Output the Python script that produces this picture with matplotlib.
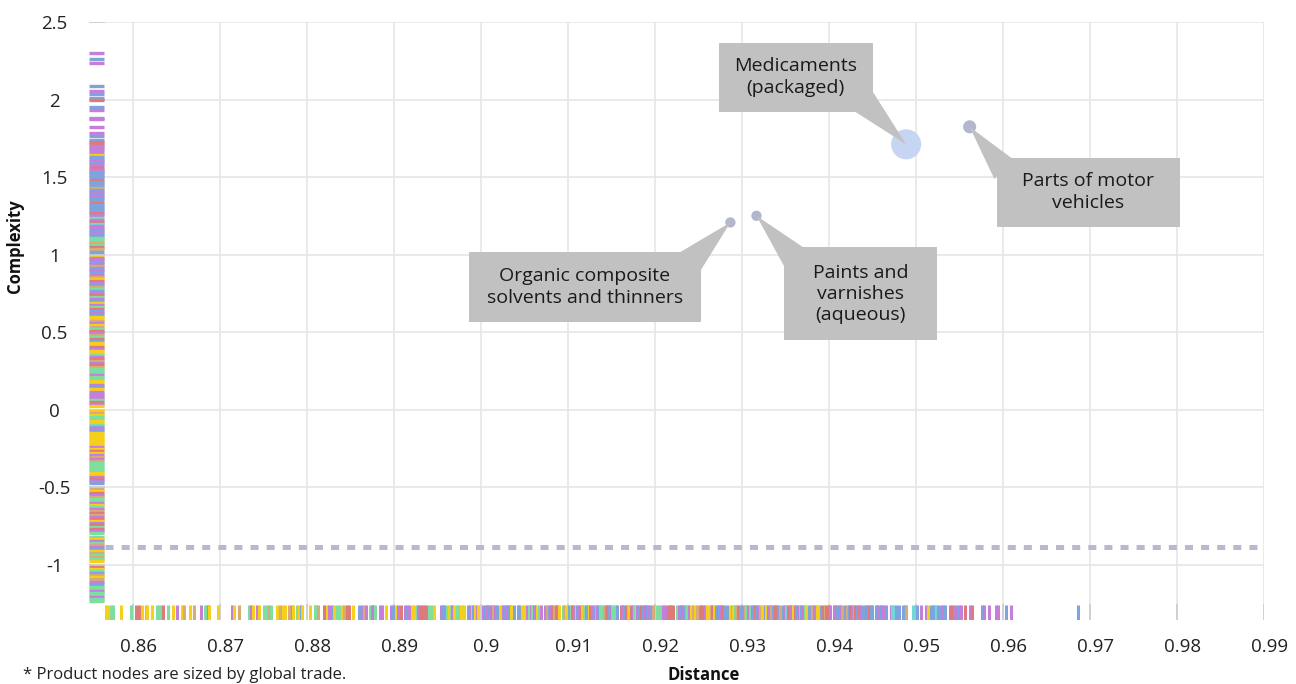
import numpy as np
import matplotlib
matplotlib.use('Agg')
import matplotlib.pyplot as plt
import matplotlib.patches as patches
import matplotlib.transforms as mtransforms

plt.rcParams['font.family'] = ['Open Sans', 'DejaVu Sans']
plt.rcParams['lines.scale_dashes'] = False

# labelled products
names = ['Medicaments\n(packaged)', 'Parts of motor\nvehicles',
         'Organic composite\nsolvents and thinners', 'Paints and\nvarnishes\n(aqueous)']
dist = [0.9489, 0.9562, 0.9287, 0.9317]
comp = [1.711, 1.824, 1.207, 1.250]
trade = [380, 72, 45, 45]
node_cols = ['#c6d5f1', '#b3b7cd', '#b3b7cd', '#b3b7cd']

avg_comp = -0.884

x_ticks = [0.86, 0.87, 0.88, 0.89, 0.90, 0.91, 0.92, 0.93, 0.94, 0.95, 0.96, 0.97, 0.98, 0.99]
x_labels = ['0.86', '0.87', '0.88', '0.89', '0.9', '0.91', '0.92', '0.93', '0.94', '0.95',
            '0.96', '0.97', '0.98', '0.99']
y_ticks = [2.5, 2, 1.5, 1, 0.5, 0, -0.5, -1]
y_labels = ['2.5', '2', '1.5', '1', '0.5', '0', '-0.5', '-1']

# sector colours of the rug marks
sector_cols = {'P': '#c57ed9', 'B': '#7fa4dd', 'R': '#dd7b7b', 'Y': '#f6ce1c',
               'G': '#7edda0', 'T': '#d6ab79', 'C': '#72d7d7'}

# complexity of every product (left rug)
rug_comp = [
    (2.302, 'P'), (2.261, 'B'), (2.237, 'P'),
    (2.089, 'B'), (2.057, 'P'), (2.038, 'B'), (2.010, 'B'), (1.997, 'R'),
    (1.954, 'B'), (1.932, 'P'), (1.883, 'B'), (1.874, 'P'), (1.825, 'P'), (1.786, 'P'), (1.765, 'B'),
    (1.739, 'B'), (1.726, 'R'), (1.713, 'R'), (1.700, 'P'), (1.687, 'P'), (1.674, 'P'), (1.655, 'P'),
    (1.644, 'Y'), (1.629, 'B'), (1.616, 'B'), (1.604, 'P'), (1.591, 'B'), (1.578, 'P'), (1.558, 'R'),
    (1.545, 'P'), (1.535, 'B'), (1.525, 'B'), (1.512, 'B'), (1.503, 'B'), (1.481, 'R'), (1.468, 'B'),
    (1.455, 'B'), (1.442, 'B'), (1.431, 'T'), (1.417, 'B'), (1.404, 'P'), (1.391, 'B'), (1.378, 'P'),
    (1.365, 'B'), (1.352, 'B'), (1.334, 'R'), (1.320, 'B'), (1.307, 'B'), (1.294, 'B'), (1.278, 'B'),
    (1.268, 'R'), (1.252, 'P'), (1.234, 'G'), (1.223, 'P'), (1.210, 'R'), (1.197, 'C'), (1.184, 'P'),
    (1.171, 'P'), (1.159, 'B'), (1.146, 'P'), (1.133, 'B'), (1.120, 'B'), (1.107, 'G'), (1.094, 'G'),
    (1.083, 'G'), (1.075, 'T'), (1.062, 'G'), (1.049, 'R'), (1.036, 'T'), (1.019, 'B'),
    (0.986, 'Y'), (0.975, 'P'), (0.965, 'P'), (0.952, 'B'), (0.939, 'P'), (0.926, 'T'), (0.914, 'B'),
    (0.901, 'P'), (0.888, 'B'), (0.868, 'P'), (0.855, 'T'), (0.842, 'Y'), (0.829, 'R'), (0.816, 'P'),
    (0.803, 'B'), (0.791, 'T'), (0.778, 'G'), (0.765, 'B'), (0.752, 'P'), (0.739, 'R'), (0.726, 'G'),
    (0.713, 'P'), (0.701, 'B'), (0.688, 'Y'), (0.675, 'P'), (0.662, 'G'), (0.649, 'R'), (0.636, 'B'),
    (0.623, 'P'), (0.610, 'B'), (0.597, 'Y'), (0.584, 'Y'), (0.571, 'T'), (0.559, 'P'), (0.546, 'Y'),
    (0.533, 'T'), (0.520, 'G'), (0.507, 'R'), (0.494, 'P'), (0.481, 'T'), (0.468, 'G'), (0.455, 'R'),
    (0.443, 'B'), (0.430, 'Y'), (0.417, 'Y'), (0.404, 'R'), (0.391, 'P'), (0.378, 'Y'), (0.365, 'Y'),
    (0.352, 'G'), (0.339, 'P'), (0.326, 'R'), (0.313, 'T'), (0.300, 'P'), (0.288, 'R'), (0.275, 'T'),
    (0.262, 'G'), (0.249, 'G'), (0.236, 'G'), (0.223, 'P'), (0.210, 'G'), (0.197, 'G'), (0.184, 'Y'),
    (0.171, 'Y'), (0.159, 'P'), (0.146, 'B'), (0.133, 'Y'), (0.113, 'P'), (0.101, 'P'), (0.088, 'P'),
    (0.075, 'P'), (0.062, 'G'), (0.049, 'R'), (0.036, 'P'), (0.023, 'Y'),
    (-0.009, 'Y'), (-0.022, 'T'), (-0.035, 'Y'), (-0.048, 'G'), (-0.061, 'G'), (-0.074, 'Y'),
    (-0.087, 'Y'), (-0.099, 'G'), (-0.112, 'B'), (-0.125, 'P'), (-0.138, 'B'), (-0.151, 'Y'),
    (-0.164, 'Y'), (-0.177, 'Y'), (-0.190, 'Y'), (-0.203, 'Y'), (-0.216, 'Y'), (-0.229, 'Y'),
    (-0.241, 'P'), (-0.254, 'Y'), (-0.267, 'R'), (-0.280, 'Y'), (-0.293, 'P'), (-0.306, 'T'),
    (-0.319, 'P'), (-0.332, 'T'), (-0.345, 'G'), (-0.358, 'G'), (-0.370, 'G'), (-0.383, 'G'),
    (-0.396, 'G'), (-0.409, 'Y'), (-0.422, 'Y'), (-0.435, 'P'), (-0.448, 'R'), (-0.461, 'P'),
    (-0.474, 'B'), (-0.512, 'T'), (-0.525, 'Y'), (-0.538, 'R'), (-0.551, 'P'), (-0.564, 'T'),
    (-0.577, 'G'), (-0.590, 'G'), (-0.602, 'P'), (-0.615, 'Y'), (-0.628, 'G'), (-0.641, 'P'),
    (-0.654, 'T'), (-0.667, 'R'), (-0.680, 'T'), (-0.693, 'P'), (-0.706, 'R'), (-0.719, 'Y'),
    (-0.731, 'P'), (-0.744, 'R'), (-0.757, 'G'), (-0.770, 'R'), (-0.783, 'P'), (-0.796, 'G'),
    (-0.822, 'G'), (-0.835, 'Y'), (-0.848, 'P'), (-0.861, 'G'), (-0.873, 'T'), (-0.886, 'P'),
    (-0.899, 'B'), (-0.912, 'Y'), (-0.925, 'T'), (-0.938, 'G'), (-0.951, 'T'), (-0.964, 'G'),
    (-0.977, 'Y'), (-1.015, 'R'), (-1.028, 'Y'), (-1.041, 'G'), (-1.054, 'B'), (-1.067, 'T'),
    (-1.080, 'Y'), (-1.093, 'T'), (-1.112, 'P'), (-1.125, 'B'), (-1.145, 'G'), (-1.157, 'G'),
    (-1.170, 'P'), (-1.183, 'G'), (-1.196, 'G'), (-1.209, 'P'), (-1.222, 'G'), (-1.235, 'G'),
]

# distance of every product (bottom rug)
rug_dist = [
    (0.85694, 'Y'), (0.85722, 'Y'), (0.85751, 'G'), (0.85779, 'G'), (0.85866, 'Y'), (0.85980, 'G'),
    (0.86038, 'R'), (0.86072, 'R'), (0.86103, 'Y'), (0.86149, 'G'), (0.86168, 'Y'), (0.86225, 'Y'),
    (0.86283, 'G'), (0.86306, 'G'), (0.86325, 'G'), (0.86352, 'R'), (0.86402, 'G'), (0.86460, 'Y'),
    (0.86506, 'P'), (0.86563, 'Y'), (0.86589, 'T'), (0.86662, 'Y'), (0.86704, 'T'), (0.86781, 'P'),
    (0.86831, 'G'), (0.86850, 'G'), (0.86869, 'P'), (0.86880, 'Y'), (0.86984, 'Y'),
    (0.87137, 'P'), (0.87164, 'Y'), (0.87221, 'T'), (0.87336, 'G'), (0.87363, 'P'), (0.87386, 'Y'),
    (0.87432, 'P'), (0.87455, 'Y'), (0.87512, 'G'), (0.87540, 'G'), (0.87566, 'T'), (0.87592, 'G'),
    (0.87654, 'Y'), (0.87692, 'T'), (0.87723, 'Y'), (0.87750, 'Y'), (0.87796, 'T'), (0.87827, 'P'),
    (0.87845, 'Y'), (0.87891, 'G'), (0.87911, 'Y'), (0.87930, 'B'), (0.87949, 'Y'), (0.88037, 'Y'),
    (0.88091, 'G'), (0.88110, 'G'), (0.88133, 'T'), (0.88202, 'R'), (0.88229, 'Y'), (0.88256, 'P'),
    (0.88287, 'B'), (0.88313, 'Y'), (0.88351, 'G'), (0.88374, 'G'), (0.88405, 'Y'), (0.88428, 'T'),
    (0.88466, 'R'), (0.88489, 'R'), (0.88528, 'Y'), (0.88597, 'B'), (0.88638, 'P'), (0.88661, 'T'),
    (0.88681, 'P'), (0.88727, 'G'), (0.88746, 'B'), (0.88765, 'P'), (0.88784, 'G'), (0.88841, 'P'),
    (0.88864, 'P'), (0.88907, 'Y'), (0.88964, 'P'), (0.88987, 'B'), (0.89025, 'Y'), (0.89045, 'P'),
    (0.89079, 'R'), (0.89125, 'P'), (0.89148, 'B'), (0.89171, 'P'), (0.89209, 'Y'), (0.89228, 'Y'),
    (0.89263, 'G'), (0.89282, 'P'), (0.89301, 'R'), (0.89320, 'R'), (0.89347, 'R'), (0.89370, 'R'),
    (0.89404, 'G'), (0.89427, 'G'), (0.89465, 'Y'), (0.89539, 'P'), (0.89562, 'B'), (0.89581, 'B'),
    (0.89615, 'G'), (0.89634, 'Y'), (0.89654, 'G'), (0.89672, 'P'), (0.89692, 'Y'), (0.89723, 'G'),
    (0.89741, 'G'), (0.89769, 'Y'), (0.89787, 'Y'), (0.89810, 'Y'), (0.89856, 'B'), (0.89876, 'P'),
    (0.89895, 'Y'), (0.89914, 'B'), (0.89933, 'Y'), (0.89953, 'P'), (0.89971, 'Y'),
    (0.90028, 'P'), (0.90048, 'B'), (0.90067, 'P'), (0.90086, 'B'), (0.90105, 'P'), (0.90125, 'R'),
    (0.90143, 'T'), (0.90163, 'P'), (0.90182, 'B'), (0.90220, 'Y'), (0.90240, 'Y'), (0.90258, 'P'),
    (0.90278, 'B'), (0.90297, 'P'), (0.90316, 'B'), (0.90335, 'P'), (0.90347, 'Y'), (0.90381, 'B'),
    (0.90424, 'P'), (0.90442, 'B'), (0.90477, 'Y'), (0.90496, 'Y'), (0.90534, 'P'), (0.90553, 'G'),
    (0.90573, 'P'), (0.90591, 'G'), (0.90611, 'B'), (0.90630, 'P'), (0.90653, 'Y'), (0.90672, 'G'),
    (0.90691, 'P'), (0.90745, 'P'), (0.90764, 'T'), (0.90783, 'B'), (0.90803, 'P'), (0.90821, 'R'),
    (0.90841, 'T'), (0.90860, 'R'), (0.90879, 'R'), (0.90898, 'Y'), (0.90941, 'G'), (0.90959, 'T'),
    (0.90979, 'Y'), (0.91013, 'B'), (0.91033, 'G'), (0.91051, 'R'), (0.91071, 'P'), (0.91090, 'Y'),
    (0.91108, 'B'), (0.91128, 'P'), (0.91148, 'R'), (0.91166, 'Y'), (0.91186, 'G'), (0.91205, 'P'),
    (0.91223, 'B'), (0.91243, 'Y'), (0.91262, 'R'), (0.91281, 'P'), (0.91300, 'B'), (0.91320, 'G'),
    (0.91338, 'P'), (0.91358, 'B'), (0.91377, 'G'), (0.91396, 'G'), (0.91415, 'T'), (0.91435, 'P'),
    (0.91453, 'R'), (0.91473, 'B'), (0.91492, 'P'), (0.91511, 'G'), (0.91530, 'G'), (0.91550, 'G'),
    (0.91568, 'B'), (0.91611, 'R'), (0.91630, 'P'), (0.91649, 'B'), (0.91668, 'R'), (0.91688, 'G'),
    (0.91706, 'Y'), (0.91725, 'R'), (0.91745, 'P'), (0.91763, 'G'), (0.91783, 'Y'), (0.91802, 'P'),
    (0.91821, 'B'), (0.91840, 'R'), (0.91860, 'B'), (0.91878, 'P'), (0.91898, 'R'), (0.91917, 'B'),
    (0.91936, 'P'), (0.91955, 'B'), (0.91975, 'T'), (0.92028, 'G'), (0.92047, 'G'), (0.92067, 'G'),
    (0.92097, 'P'), (0.92116, 'P'), (0.92154, 'R'), (0.92174, 'R'), (0.92193, 'R'), (0.92212, 'R'),
    (0.92251, 'G'), (0.92277, 'P'), (0.92297, 'B'), (0.92315, 'P'), (0.92334, 'B'), (0.92355, 'T'),
    (0.92373, 'G'), (0.92392, 'P'), (0.92423, 'Y'), (0.92442, 'T'), (0.92461, 'Y'), (0.92481, 'T'),
    (0.92518, 'P'), (0.92538, 'R'), (0.92556, 'R'), (0.92576, 'P'), (0.92607, 'Y'), (0.92626, 'Y'),
    (0.92645, 'T'), (0.92664, 'R'), (0.92682, 'Y'), (0.92702, 'B'), (0.92722, 'R'), (0.92740, 'B'),
    (0.92759, 'P'), (0.92779, 'R'), (0.92797, 'B'), (0.92836, 'B'), (0.92863, 'Y'), (0.92883, 'T'),
    (0.92901, 'Y'), (0.92920, 'G'), (0.92940, 'T'), (0.92959, 'R'), (0.92978, 'B'), (0.93016, 'B'),
    (0.93035, 'T'), (0.93055, 'G'), (0.93073, 'P'), (0.93093, 'G'), (0.93113, 'P'), (0.93131, 'B'),
    (0.93150, 'R'), (0.93170, 'B'), (0.93188, 'P'), (0.93208, 'T'), (0.93228, 'Y'), (0.93246, 'Y'),
    (0.93265, 'B'), (0.93285, 'Y'), (0.93303, 'P'), (0.93323, 'B'), (0.93342, 'T'), (0.93360, 'B'),
    (0.93380, 'R'), (0.93400, 'R'), (0.93418, 'B'), (0.93438, 'T'), (0.93475, 'B'), (0.93495, 'P'),
    (0.93514, 'C'), (0.93533, 'R'), (0.93552, 'P'), (0.93572, 'P'), (0.93590, 'Y'), (0.93610, 'R'),
    (0.93629, 'B'), (0.93648, 'P'), (0.93667, 'G'), (0.93687, 'B'), (0.93705, 'P'), (0.93725, 'G'),
    (0.93744, 'Y'), (0.93774, 'B'), (0.93794, 'B'), (0.93813, 'T'), (0.93832, 'P'), (0.93851, 'B'),
    (0.93871, 'Y'), (0.93889, 'Y'), (0.93908, 'B'), (0.93935, 'R'), (0.93955, 'T'), (0.93974, 'R'),
    (0.94004, 'R'), (0.94020, 'P'), (0.94058, 'P'), (0.94077, 'P'), (0.94096, 'B'), (0.94115, 'B'),
    (0.94135, 'P'), (0.94153, 'T'), (0.94192, 'B'), (0.94211, 'T'), (0.94230, 'B'), (0.94250, 'R'),
    (0.94268, 'P'), (0.94288, 'T'), (0.94307, 'R'), (0.94326, 'B'), (0.94345, 'R'), (0.94365, 'P'),
    (0.94395, 'B'), (0.94426, 'R'), (0.94445, 'B'), (0.94464, 'R'), (0.94483, 'B'), (0.94503, 'B'),
    (0.94541, 'B'), (0.94560, 'B'), (0.94578, 'P'), (0.94598, 'B'), (0.94618, 'P'), (0.94636, 'P'),
    (0.94655, 'B'), (0.94713, 'P'), (0.94732, 'C'), (0.94751, 'C'), (0.94770, 'B'), (0.94808, 'B'),
    (0.94854, 'B'), (0.94874, 'B'), (0.94893, 'T'), (0.94969, 'C'), (0.94988, 'C'), (0.95015, 'B'),
    (0.95066, 'P'), (0.95123, 'P'), (0.95142, 'Y'), (0.95181, 'B'), (0.95199, 'B'), (0.95218, 'B'),
    (0.95238, 'C'), (0.95257, 'B'), (0.95296, 'B'), (0.95314, 'P'), (0.95333, 'B'), (0.95399, 'R'),
    (0.95417, 'R'), (0.95437, 'P'), (0.95479, 'P'), (0.95498, 'B'), (0.95517, 'P'), (0.95563, 'R'),
    (0.95620, 'P'), (0.95651, 'R'), (0.95766, 'B'), (0.95781, 'P'), (0.95839, 'P'), (0.95927, 'P'),
    (0.95946, 'P'), (0.96042, 'B'), (0.96099, 'P'), (0.9686, 'B'),
]

W, H = 1296, 684


def fig_xy(px, py):
    # pixel (from top-left) -> figure fraction
    return px / W, 1 - py / H


fig = plt.figure(figsize=(W / 100, H / 100), dpi=100)
ax = fig.add_axes([89 / W, 64 / H, (1263.7 - 89) / W, (620 - 22) / H])
ax.set_xlim(0.85498, 0.99)
ax.set_ylim(-1.357, 2.5)
for s in ax.spines.values():
    s.set_visible(False)

grid_col = '#e6e6e6'
band_col = '#cfcfcf'
rug_w = 0.0128   # left band width, axes fraction
rug_h = 0.025    # bottom band height, axes fraction

# grid
for yv in y_ticks:
    ax.axhline(yv, xmin=rug_w, color=grid_col, lw=1.2, zorder=0)
    ax.axhline(yv, xmin=0, xmax=rug_w, color=band_col, lw=1.4, zorder=0.5)
for xv in x_ticks:
    ax.axvline(xv, ymin=rug_h, color=grid_col, lw=1.2, zorder=0)
    ax.axvline(xv, ymin=0, ymax=rug_h, color=band_col, lw=1.4, zorder=0.5)

# rugs
cv, cc = zip(*rug_comp)
ax.hlines(cv, 0, rug_w, transform=ax.get_yaxis_transform(),
          colors=[sector_cols[c] for c in cc], lw=2.4, zorder=1)
dv, dc = zip(*rug_dist)
ax.vlines(dv, 0, rug_h, transform=ax.get_xaxis_transform(),
          colors=[sector_cols[c] for c in dc], lw=2.2, zorder=1)

# average complexity line
ax.axhline(avg_comp, xmin=rug_w + 0.001, color='#b6bad0', lw=3.6,
           dashes=(5.8, 5.8), zorder=2)

# product nodes
ax.scatter(dist, comp, s=np.array(trade) * 1.23, c=node_cols, linewidths=0, zorder=3)

# callouts: box centre, box size, wedge start (pixels)
boxes = [((795.8, 77), (154, 69), (862, 100)),
         ((1088.3, 192), (183, 69), (1005, 170)),
         ((584.8, 287), (232, 70), (690, 262)),
         ((860.7, 294), (153, 93), (795, 258))]
box_col = '#c1c1c1'
for i in range(len(names)):
    (cx, cy), (bw, bh), (sx, sy) = boxes[i]
    ax.annotate('', xy=(dist[i], comp[i]), xytext=fig_xy(sx, sy),
                textcoords='figure fraction',
                arrowprops=dict(arrowstyle='wedge,tail_width=1.0,shrink_factor=0.5',
                                fc=box_col, ec='none', shrinkA=0, shrinkB=0,
                                patchA=None, mutation_scale=20),
                zorder=4)
    x0, y0 = fig_xy(cx - bw / 2, cy + bh / 2)
    fig.add_artist(patches.Rectangle((x0, y0), bw / W, bh / H, transform=fig.transFigure,
                                     fc=box_col, ec='none', zorder=5))
    tx, ty = fig_xy(cx, cy)
    fig.text(tx, ty, names[i], ha='center', va='center', fontsize=14,
             color='#1a1a1a', linespacing=1.25, zorder=6)

# ticks
ax.set_xticks(x_ticks)
ax.set_xticklabels(x_labels)
ax.set_yticks(y_ticks)
ax.set_yticklabels(y_labels)
ax.tick_params(axis='x', length=0, pad=13, labelsize=13.5, labelcolor='#222222')
ax.tick_params(axis='y', length=0, pad=25, labelsize=13.5, labelcolor='#222222')
off = mtransforms.ScaledTranslation(0.06, 0, fig.dpi_scale_trans)
for lab in ax.get_xticklabels():
    lab.set_transform(lab.get_transform() + off)
for lab in ax.get_yticklabels():
    lab.set_horizontalalignment('center')

fig.text(*fig_xy(15.5, 246.5), 'Complexity', rotation=90, ha='center', va='center',
         fontsize=12, fontweight='bold', color='#111111')
fig.text(*fig_xy(704, 675.5), 'Distance', ha='center', va='center',
         fontsize=12, fontweight='bold', color='#111111')
fig.text(*fig_xy(22.7, 675), '* Product nodes are sized by global trade.', ha='left',
         va='center', fontsize=12, color='#222222')

plt.savefig('out.png', dpi=100)
